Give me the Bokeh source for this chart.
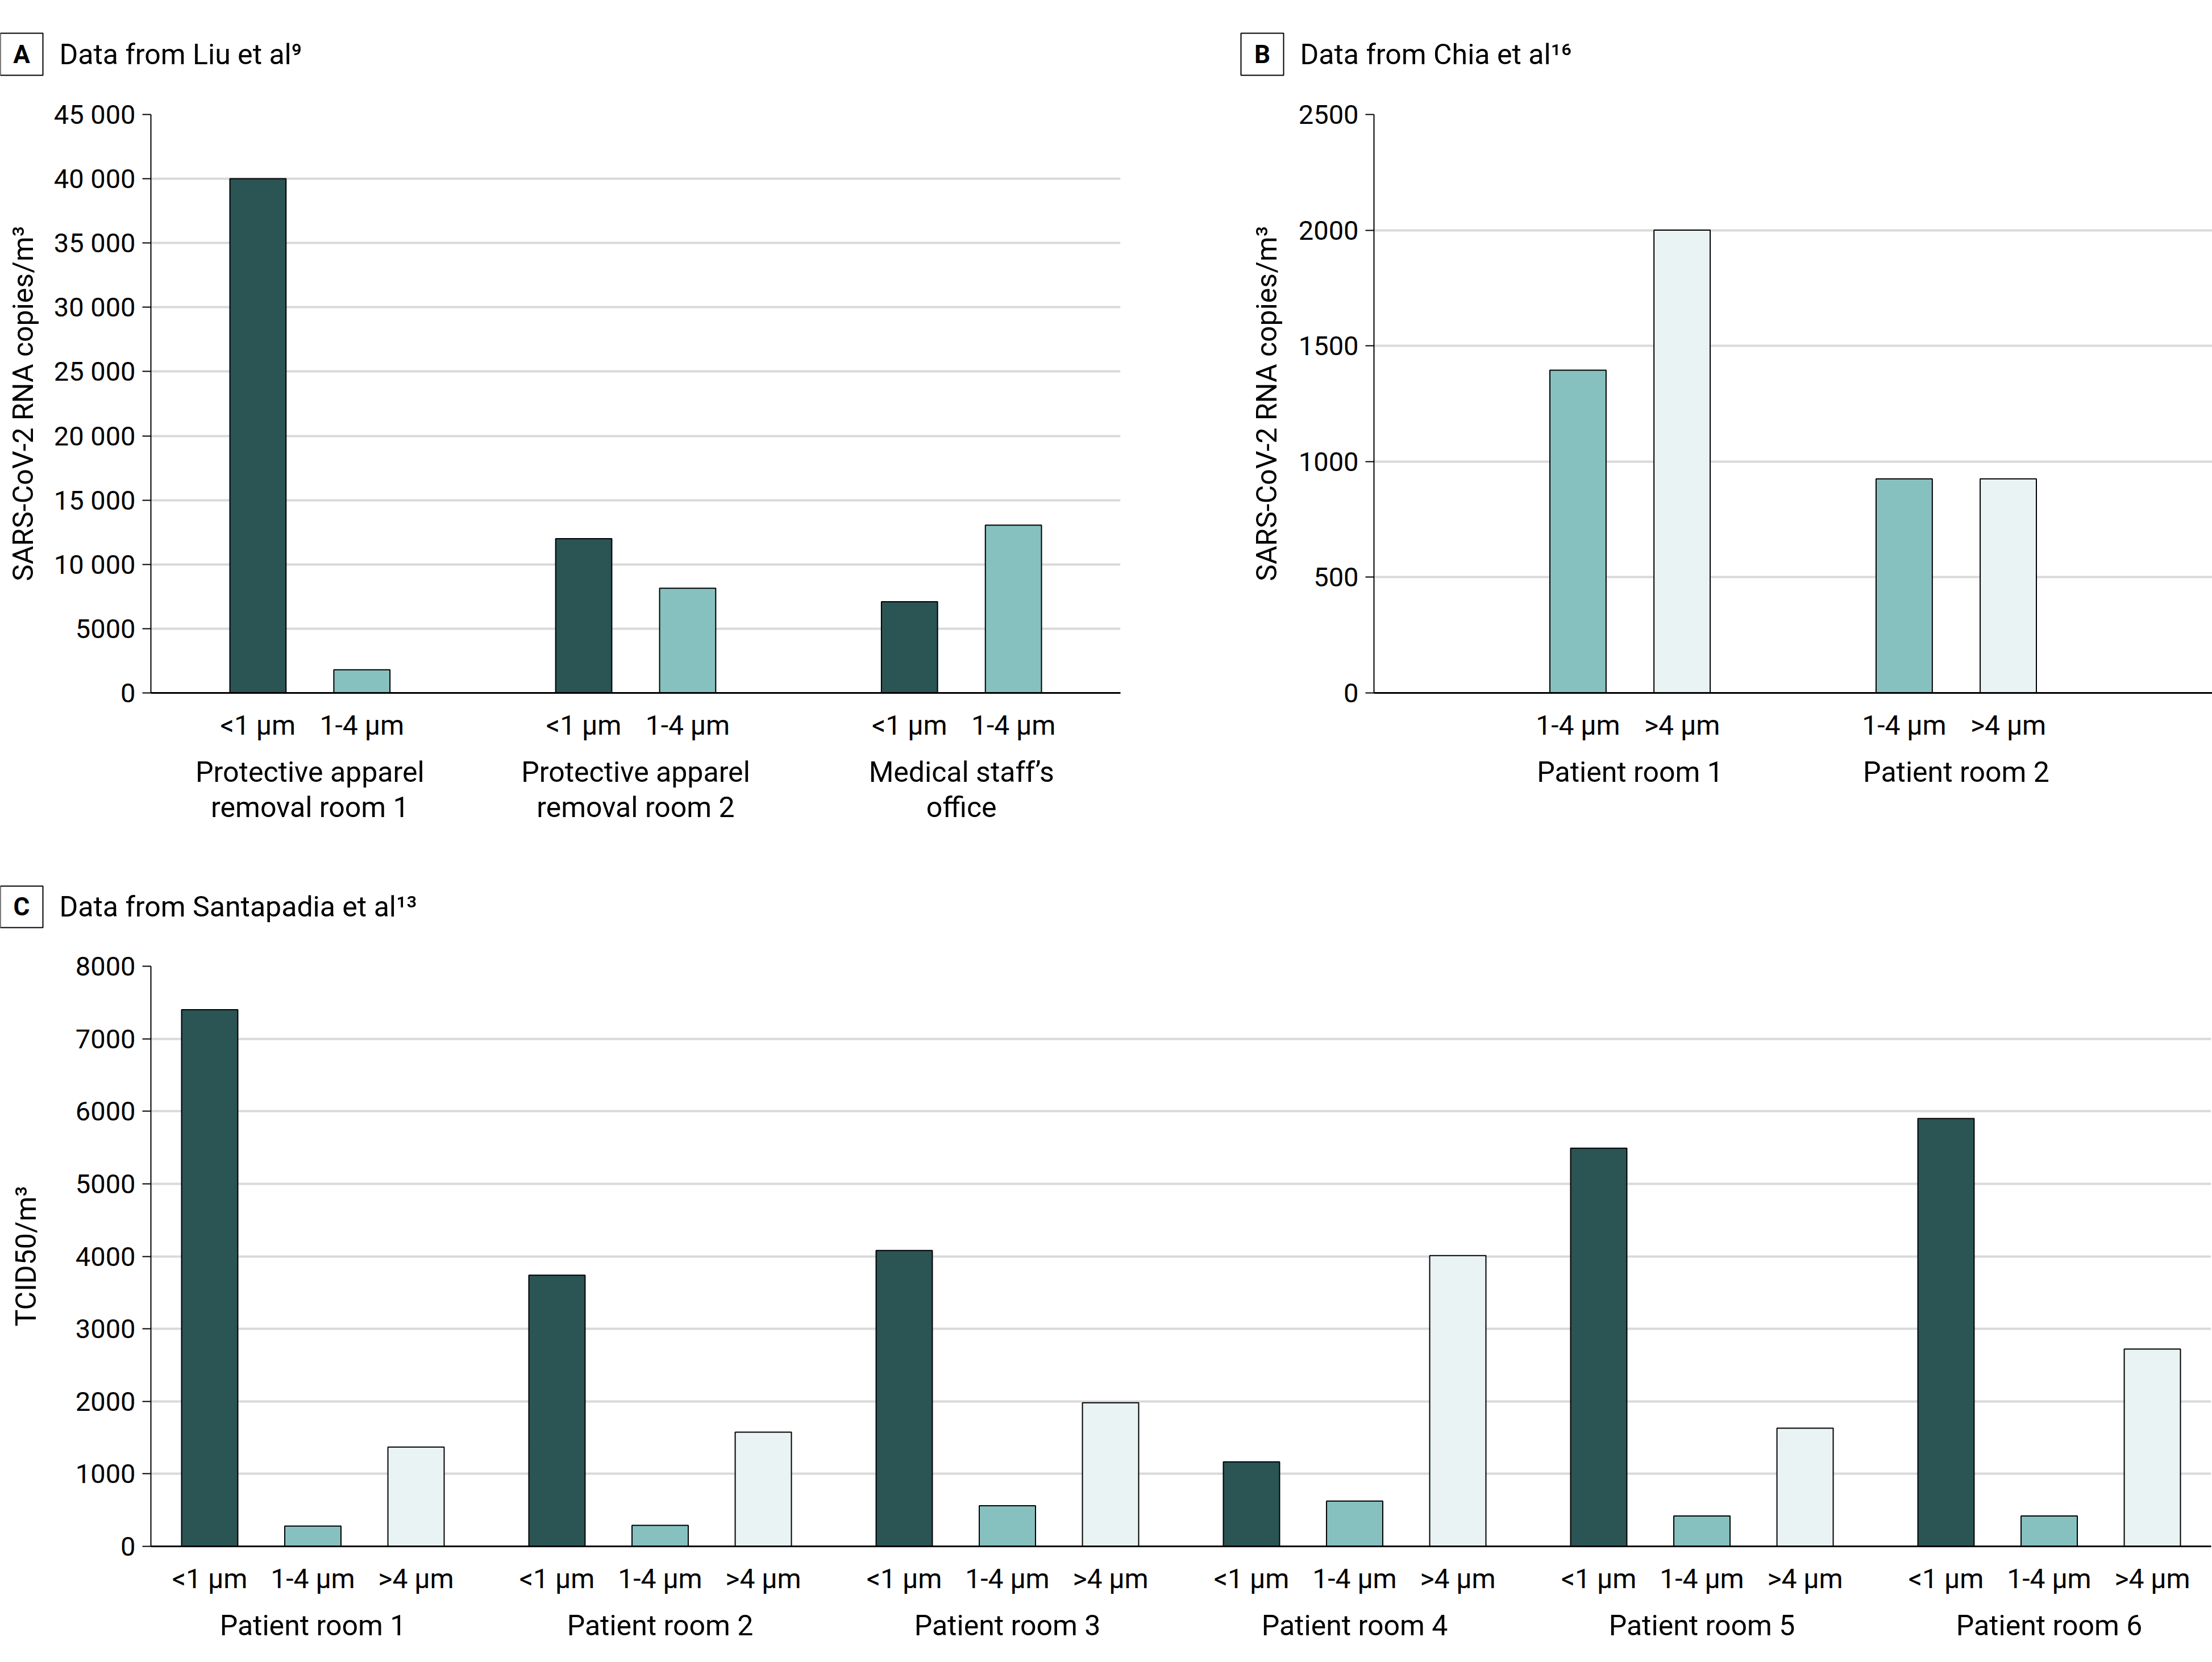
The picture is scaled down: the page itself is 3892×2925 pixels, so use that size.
from bokeh.plotting import figure
from bokeh.models import FactorRange, Range1d, FixedTicker
from bokeh.layouts import column, row
from bokeh.embed import file_html
from bokeh.resources import INLINE
from bokeh.core.properties import value

# ---------------- data ----------------
sizes_A = ["<1 µm", "1-4 µm"]
groups_A = ["Protective apparel\nremoval room 1", "Protective apparel\nremoval room 2", "Medical staff’s\noffice"]
A_lt1 = [40000, 12000, 7100]
A_1to4 = [1800, 8150, 13050]
ticks_A = [0, 5000, 10000, 15000, 20000, 25000, 30000, 35000, 40000, 45000]
labels_A = ["0", "5000", "10 000", "15 000", "20 000", "25 000", "30 000", "35 000", "40 000", "45 000"]

sizes_B = ["1-4 µm", ">4 µm"]
groups_B = ["Patient room 1", "Patient room 2"]
B_1to4 = [1395, 925]
B_gt4 = [2000, 925]
ticks_B = [0, 500, 1000, 1500, 2000, 2500]
labels_B = ["0", "500", "1000", "1500", "2000", "2500"]

sizes_C = ["<1 µm", "1-4 µm", ">4 µm"]
groups_C = ["Patient room 1", "Patient room 2", "Patient room 3", "Patient room 4", "Patient room 5", "Patient room 6"]
C_lt1 = [7400, 3740, 4080, 1165, 5490, 5900]
C_1to4 = [280, 290, 560, 625, 420, 420]
C_gt4 = [1370, 1575, 1980, 4010, 1630, 2720]
ticks_C = [0, 1000, 2000, 3000, 4000, 5000, 6000, 7000, 8000]
labels_C = ["0", "1000", "2000", "3000", "4000", "5000", "6000", "7000", "8000"]

letters = ["A", "B", "C"]
titles = ["Data from Liu et al⁹", "Data from Chia et al¹⁶", "Data from Santapadia et al¹³"]
ylabels = ["SARS-CoV-2 RNA copies/m³", "SARS-CoV-2 RNA copies/m³", "TCID50/m³"]

# ---------------- style ----------------
FONT = "Roboto"
DARK = "#2b5454"
MID = "#86c1c0"
LIGHT = "#eaf3f4"
GRID = "#d9d9d9"


def title_fig(width, height):
    t = figure(width=width, height=height, x_range=Range1d(0, width), y_range=Range1d(0, height),
               output_backend="svg", toolbar_location=None, min_border=0,
               x_axis_location=None, y_axis_location=None)
    t.grid.visible = False
    t.outline_line_color = None
    return t


def add_title(t, letter, title, bl, br, bb, bt, tx, ty):
    t.quad(left=[bl], right=[br], bottom=[bb], top=[bt], fill_color="white",
           line_color="black", line_width=2)
    t.text(x=[(bl + br) / 2], y=[(bb + bt) / 2], text=[letter], text_font=value(FONT),
           text_font_size=value("44px"), text_font_style="bold", text_align="center",
           text_baseline="middle", text_color="black")
    t.text(x=[tx], y=[ty], text=[title], text_font=value(FONT), text_font_size=value("50px"),
           text_align="left", text_baseline="middle", text_color="black")


def make_fig(width, height, factors, group_padding, range_padding, ymax, ticks, tlabels,
             ylabel, ylabel_standoff, mbl, mbr, mbt, mbb):
    xr = FactorRange(*factors, group_padding=group_padding, range_padding=range_padding,
                     range_padding_units="absolute")
    p = figure(width=width, height=height, x_range=xr, y_range=Range1d(0, ymax),
               output_backend="svg", toolbar_location=None,
               min_border_left=mbl, min_border_right=mbr, min_border_top=mbt, min_border_bottom=mbb)
    p.outline_line_color = None
    p.xgrid.grid_line_color = None
    p.ygrid.grid_line_color = GRID
    p.ygrid.grid_line_width = 4

    ya = p.yaxis[0]
    ya.ticker = FixedTicker(ticks=ticks)
    ya.major_label_overrides = {t: l for t, l in zip(ticks, tlabels)}
    ya.major_tick_out = 15
    ya.major_tick_in = 0
    ya.major_tick_line_width = 2
    ya.minor_tick_line_color = None
    ya.axis_line_width = 2
    ya.axis_line_color = "black"
    ya.major_label_text_font = FONT
    ya.major_label_text_font_size = "47px"
    ya.major_label_text_color = "black"
    ya.major_label_standoff = 12
    ya.axis_label = ylabel
    ya.axis_label_text_font = FONT
    ya.axis_label_text_font_size = "50px"
    ya.axis_label_text_font_style = "normal"
    ya.axis_label_text_color = "black"
    ya.axis_label_standoff = ylabel_standoff

    xa = p.xaxis[0]
    xa.major_tick_line_color = None
    xa.minor_tick_line_color = None
    xa.axis_line_width = 3
    xa.axis_line_color = "black"
    xa.major_label_text_font = FONT
    xa.major_label_text_font_size = "48px"
    xa.major_label_text_color = "black"
    xa.major_label_standoff = 22
    xa.group_text_font = FONT
    xa.group_text_font_size = "50px"
    xa.group_text_font_style = "normal"
    xa.group_text_color = "black"
    xa.group_text_line_height = 1.08
    xa.separator_line_alpha = 0
    return p


# Titles of panels A and B (one strip across the top)
tTop = title_fig(3892, 161)
add_title(tTop, letters[0], titles[0], 0, 75, 29, 103, 104, 66)
add_title(tTop, letters[1], titles[1], 2183, 2258, 29, 103, 2287, 66)

# Panel A
fA = [(g, s) for g in groups_A for s in sizes_A]
pA = make_fig(2150, 1319, fA, 1.134, 0.53, 45000, ticks_A, labels_A, ylabels[0], 22,
              265, 179, 40, 261)
pA.vbar(x=[(g, sizes_A[0]) for g in groups_A], top=A_lt1, width=0.54, fill_color=DARK,
        line_color="black", line_width=2)
pA.vbar(x=[(g, sizes_A[1]) for g in groups_A], top=A_1to4, width=0.54, fill_color=MID,
        line_color="black", line_width=2)

# Panel B
fB = [(g, s) for g in groups_B for s in sizes_B]
pB = make_fig(1742, 1319, fB, 1.134, 1.46, 2500, ticks_B, labels_B, ylabels[1], 24,
              267, 0, 40, 261)
pB.vbar(x=[(g, sizes_B[0]) for g in groups_B], top=B_1to4, width=0.54, fill_color=MID,
        line_color="black", line_width=2)
pB.vbar(x=[(g, sizes_B[1]) for g in groups_B], top=B_gt4, width=0.54, fill_color=LIGHT,
        line_color="black", line_width=2)

# Panel C
tC = title_fig(3892, 180)
add_title(tC, letters[2], titles[2], 0, 75, 28, 101, 104, 65)
fC = [(g, s) for g in groups_C for s in sizes_C]
pC = make_fig(3892, 1265, fC, 0.366, 0.07, 8000, ticks_C, labels_C, ylabels[2], 55,
              265, 2, 40, 204)
pC.vbar(x=[(g, sizes_C[0]) for g in groups_C], top=C_lt1, width=0.545, fill_color=DARK,
        line_color="black", line_width=2)
pC.vbar(x=[(g, sizes_C[1]) for g in groups_C], top=C_1to4, width=0.545, fill_color=MID,
        line_color="black", line_width=2)
pC.vbar(x=[(g, sizes_C[2]) for g in groups_C], top=C_gt4, width=0.545, fill_color=LIGHT,
        line_color="black", line_width=2)

layout = column(tTop, row(pA, pB), tC, row(pC))
open("out.html", "w").write(file_html(layout, INLINE))
